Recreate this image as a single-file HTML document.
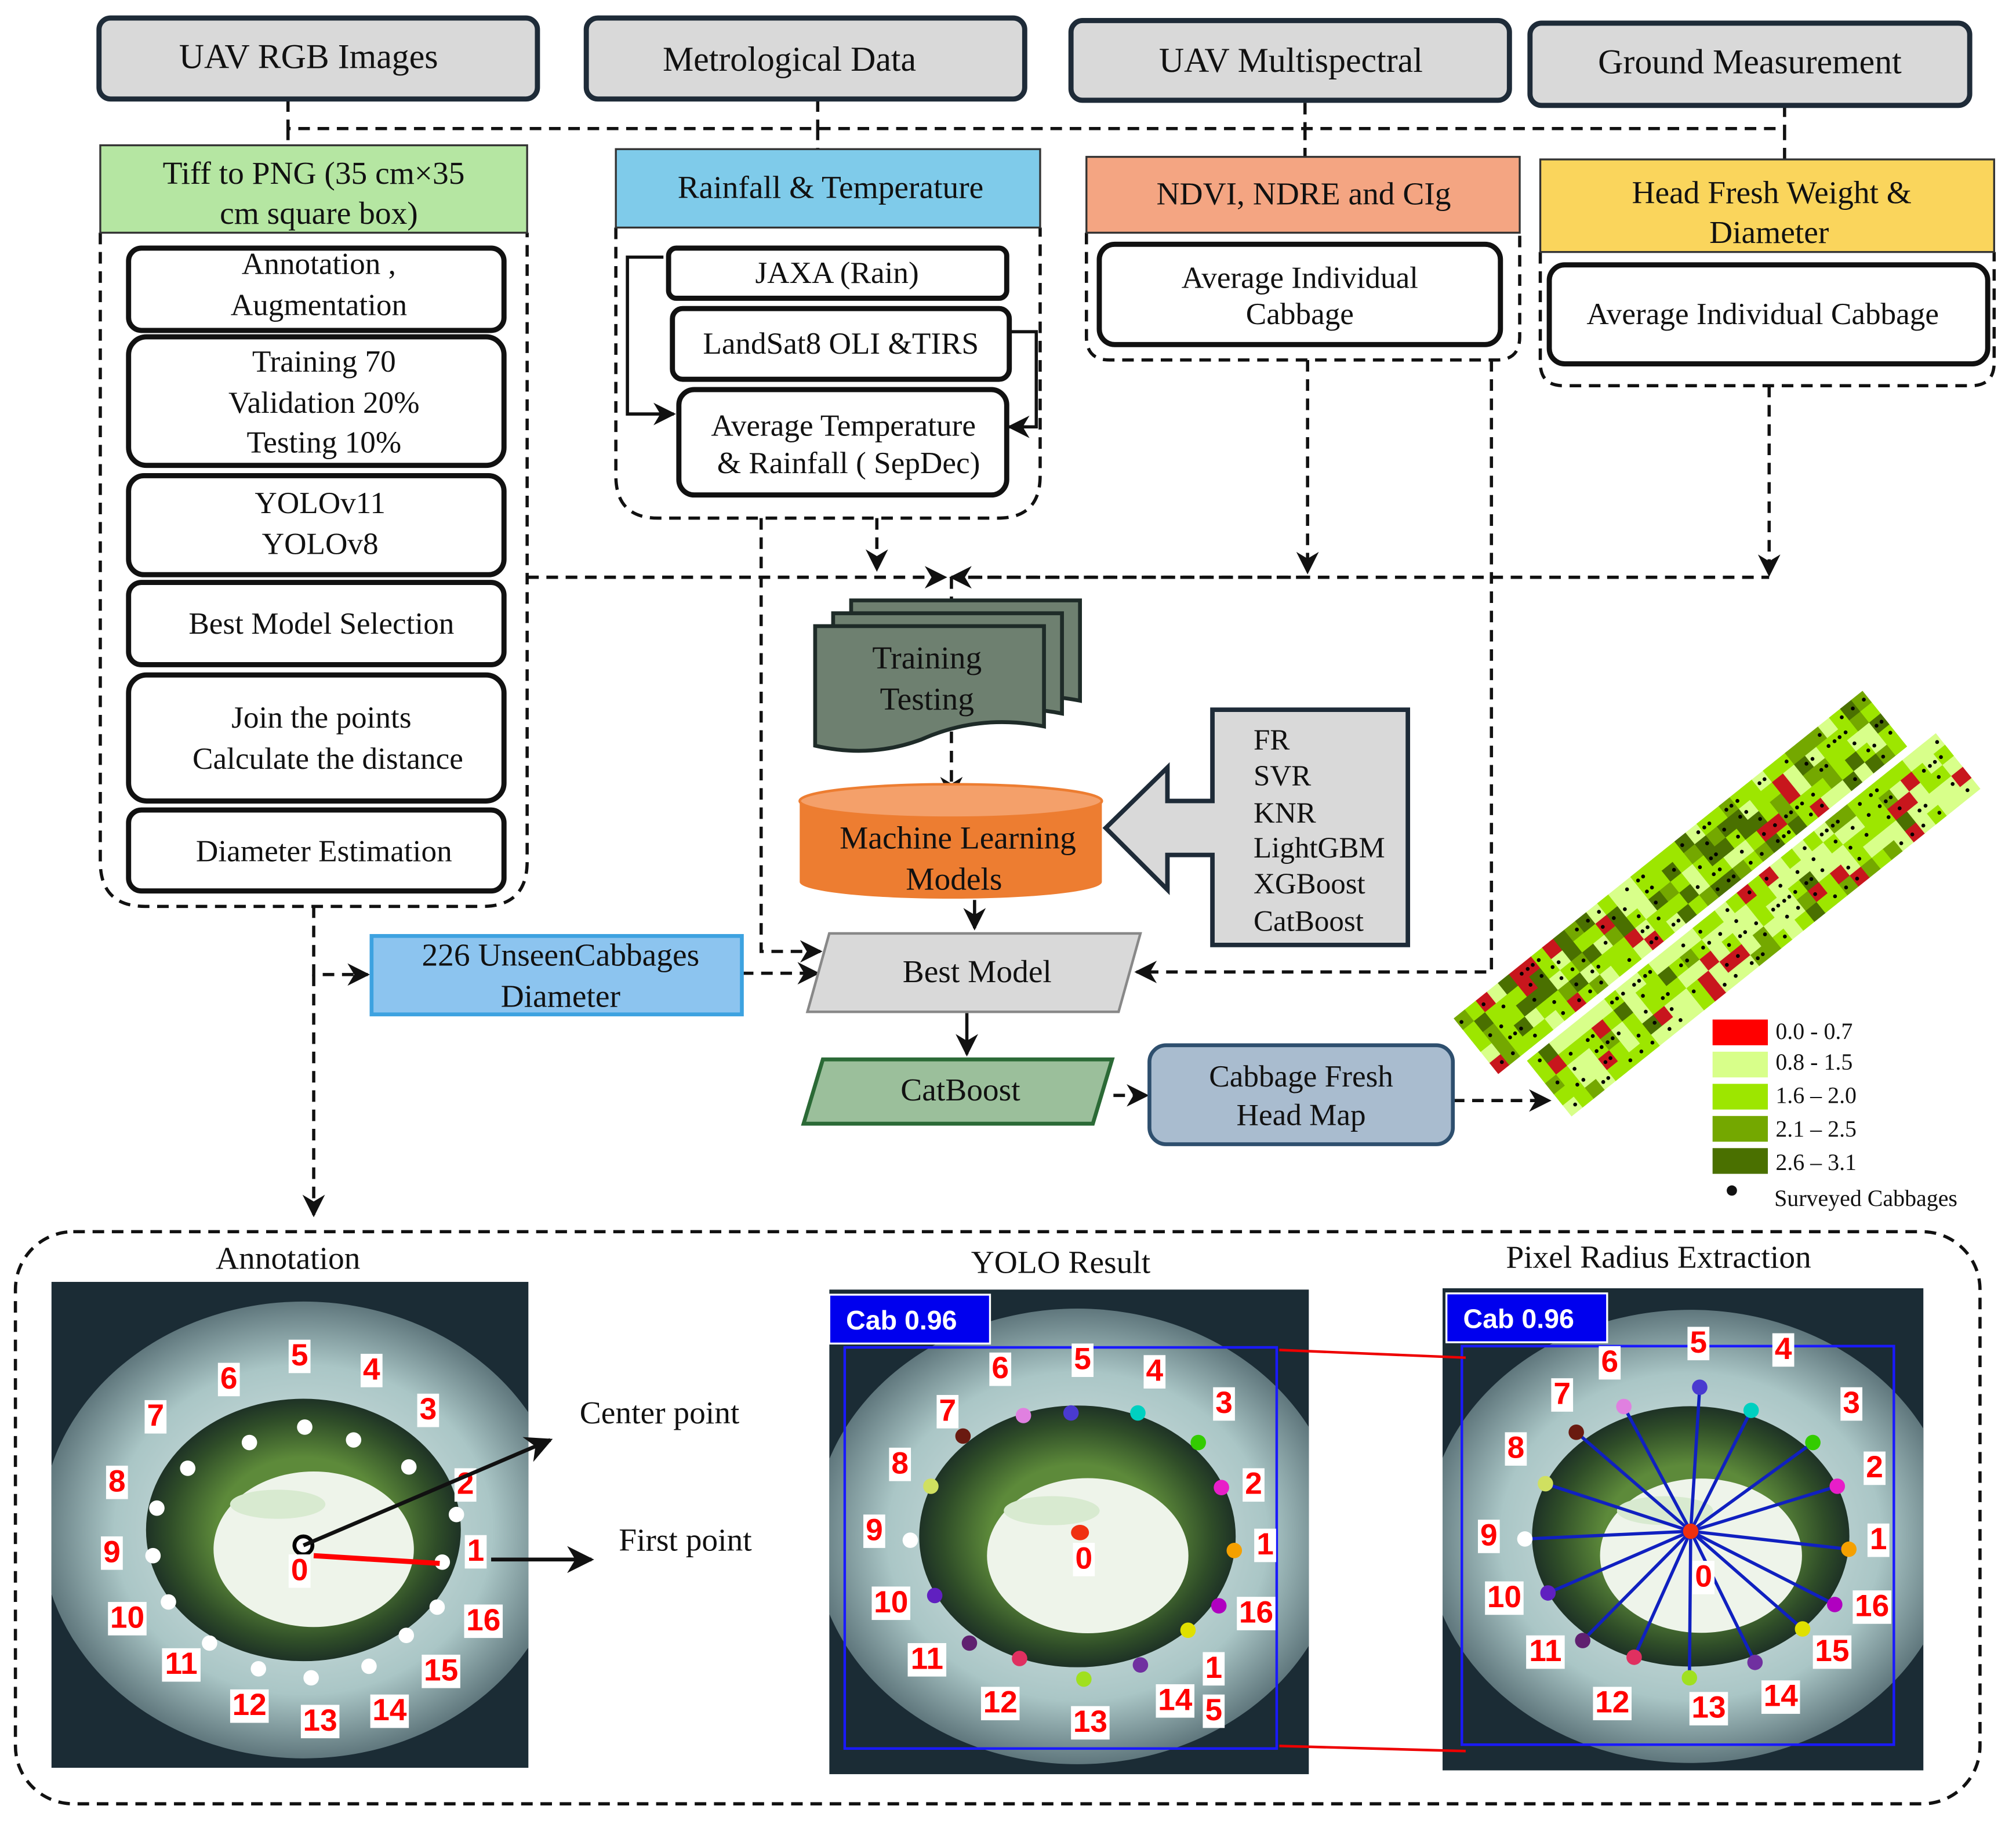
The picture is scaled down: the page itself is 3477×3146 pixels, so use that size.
<!DOCTYPE html>
<html><head><meta charset="utf-8">
<style>
html,body{margin:0;padding:0;background:#fff;}
svg{display:block;}
text{font-family:"Liberation Serif",serif;}
.b{font-family:"Liberation Sans",sans-serif;font-weight:bold;}
</style></head>
<body>
<svg id="s" xmlns="http://www.w3.org/2000/svg" width="3477" height="3146" viewBox="0 0 1568 1418.7" preserveAspectRatio="none">
<defs id="defs">
<marker id="ar" viewBox="0 0 10 10" refX="9" refY="5" markerWidth="7" markerHeight="7" orient="auto-start-reverse"><path d="M0,0 L10,5 L0,10 L3,5 z" fill="#111"/></marker>
<radialGradient id="leaf" cx="50%" cy="50%" r="60%"><stop offset="0" stop-color="#e6efee"/><stop offset="0.6" stop-color="#aac6c6"/><stop offset="1" stop-color="#2a3e48"/></radialGradient>
<radialGradient id="grn" cx="50%" cy="50%" r="50%"><stop offset="0.55" stop-color="#5d8a3a"/><stop offset="0.85" stop-color="#2f4d28"/><stop offset="1" stop-color="#1e3226"/></radialGradient>
<clipPath id="c0"><rect x="40" y="997" width="371" height="378"/></clipPath>
<clipPath id="c1"><rect x="645" y="1003" width="373" height="377"/></clipPath>
<clipPath id="c2"><rect x="1122" y="1002" width="374" height="375"/></clipPath>
</defs>
<g fill="none" stroke="#111" stroke-width="2.5" stroke-dasharray="9,6">
<path d="M224,78 V100 H1388 M636,78 V100 M1015,80 V100 M1388,82 V100 M224,100 V113 M636,100 V116 M1015,100 V122 M1388,100 V124"/>
<path d="M78,181 V670 Q78,705 113,705 H375 Q410,705 410,670 V181"/>
<path d="M479,177 V370 Q479,403 512,403 H776 Q809,403 809,370 V177"/>
<path d="M845,181 V262 Q845,280 863,280 H1164 Q1182,280 1182,262 V181"/>
<path d="M1198,196 V282 Q1198,300 1216,300 H1533 Q1551,300 1551,282 V196"/>
<path d="M410,449 H1376"/>
<path d="M682,403 V443" marker-end="url(#ar)"/>
<path d="M1017,280 V445" marker-end="url(#ar)"/>
<path d="M1376,300 V447" marker-end="url(#ar)"/>
<path d="M410,449 H735" marker-end="url(#ar)"/>
<path d="M1017,449 H740" marker-end="url(#ar)"/>
<path d="M740,449 V620" marker-end="url(#ar)"/>
<path d="M592,403 V740 H638" marker-end="url(#ar)"/>
<path d="M1160,280 V756 H884" marker-end="url(#ar)"/>
<path d="M244,705 V758 H286" marker-end="url(#ar)"/>
<path d="M244,758 V945" marker-end="url(#ar)"/>
<path d="M577,757 H636" marker-end="url(#ar)"/>
<path d="M1130,856 H1205" marker-end="url(#ar)"/>
<path d="M866,852 H892" marker-end="url(#ar)"/>
<rect x="12" y="958" width="1528" height="445" rx="45"/>
</g>
<g fill="none" stroke="#111" stroke-width="2.5">
<path d="M758,700 V722" marker-end="url(#ar)"/>
<path d="M752,788 V820" marker-end="url(#ar)"/>
<path d="M516,200 H488 V322 H524" marker-end="url(#ar)"/>
<path d="M785,258 H806 V332 H785" marker-end="url(#ar)"/>
</g>
<g stroke="#1e2b38" stroke-width="4" fill="#d9d9d9">
<rect x="77" y="14" width="341" height="63" rx="9"/>
<rect x="456" y="14" width="341" height="63" rx="9"/>
<rect x="833" y="16" width="341" height="62" rx="9"/>
<rect x="1190" y="18" width="342" height="64" rx="9"/>
</g>
<g font-size="27" text-anchor="middle" fill="#111">
<text x="240" y="53">UAV RGB Images</text>
<text x="614" y="55">Metrological Data</text>
<text x="1004" y="56">UAV Multispectral</text>
<text x="1361" y="57">Ground Measurement</text>
</g>
<g stroke="#333" stroke-width="1.5">
<rect x="78" y="113" width="332" height="68" fill="#b5e6a2"/>
<rect x="479" y="116" width="330" height="61" fill="#7fcbea"/>
<rect x="845" y="122" width="337" height="59" fill="#f4a582"/>
<rect x="1198" y="124" width="353" height="72" fill="#fad55c"/>
</g>
<g font-size="25" text-anchor="middle" fill="#111">
<text x="244" y="143">Tiff to PNG (35 cm×35</text>
<text x="248" y="174">cm square box)</text>
<text x="646" y="154">Rainfall &amp; Temperature</text>
<text x="1014" y="159">NDVI, NDRE and CIg</text>
<text x="1378" y="158">Head Fresh Weight  &amp;</text>
<text x="1376" y="189">Diameter</text>
</g>
<g fill="#fff" stroke="#111" stroke-width="4">
<rect x="100" y="193" width="292" height="64" rx="10"/>
<rect x="100" y="262" width="292" height="100" rx="14"/>
<rect x="100" y="370" width="292" height="77" rx="12"/>
<rect x="100" y="453" width="292" height="64" rx="10"/>
<rect x="100" y="525" width="292" height="98" rx="14"/>
<rect x="100" y="630" width="292" height="63" rx="10"/>
<rect x="520" y="193" width="263" height="39" rx="6"/>
<rect x="523" y="240" width="262" height="55" rx="8"/>
<rect x="528" y="303" width="255" height="82" rx="12"/>
<rect x="855" y="190" width="312" height="78" rx="12"/>
<rect x="1205" y="206" width="341" height="77" rx="12"/>
</g>
<g font-size="24" text-anchor="middle" fill="#111">
<text x="248" y="213">Annotation ,</text>
<text x="248" y="245">Augmentation</text>
<text x="252" y="289">Training 70</text>
<text x="252" y="321">Validation 20%</text>
<text x="252" y="352">Testing 10%</text>
<text x="249" y="399">YOLOv11</text>
<text x="249" y="431">YOLOv8</text>
<text x="250" y="493">Best Model Selection</text>
<text x="250" y="566">Join the points</text>
<text x="255" y="598">Calculate the distance</text>
<text x="252" y="670">Diameter Estimation</text>
<text x="651" y="220">JAXA (Rain)</text>
<text x="654" y="275">LandSat8 OLI &amp;TIRS</text>
<text x="656" y="339">Average Temperature</text>
<text x="660" y="368">&amp; Rainfall ( SepDec)</text>
<text x="1011" y="224">Average Individual</text>
<text x="1011" y="252">Cabbage</text>
<text x="1371" y="252">Average Individual Cabbage</text>
</g>
<g stroke="#1e2b28" stroke-width="3" fill="#6e8070">
<path d="M662,467 H840 V545 Q790,535 745,555 Q705,570 662,560 Z"/>
<path d="M648,477 H826 V555 Q776,545 731,565 Q691,580 648,570 Z"/>
<path d="M634,487 H812 V565 Q762,555 717,575 Q677,590 634,580 Z"/>
</g>
<text x="721" y="520" font-size="25" text-anchor="middle" fill="#111">Training</text>
<text x="721" y="552" font-size="25" text-anchor="middle" fill="#111">Testing</text>
<path d="M622,623 V686 A117.5,13 0 0 0 857,686 V623 Z" fill="#ed7d31"/>
<ellipse cx="739.5" cy="623" rx="117.5" ry="13" fill="#f4a06a" stroke="#ed7d31" stroke-width="2"/>
<text x="745" y="660" font-size="25" text-anchor="middle" fill="#111">Machine Learning</text>
<text x="742" y="692" font-size="25" text-anchor="middle" fill="#111">Models</text>
<path d="M943,552 H1095 V735 H943 V665 H908 V692 L860,644 L908,597 V623 H943 Z" fill="#d9d9d9" stroke="#1e2b38" stroke-width="3.5"/>
<g font-size="23" fill="#111">
<text x="975" y="583">FR</text><text x="975" y="611">SVR</text><text x="975" y="640">KNR</text>
<text x="975" y="667">LightGBM</text><text x="975" y="695">XGBoost</text><text x="975" y="724">CatBoost</text>
</g>
<path d="M645,726 H887 L870,787 H628 Z" fill="#d9d9d9" stroke="#888" stroke-width="2"/>
<text x="760" y="764" font-size="25" text-anchor="middle" fill="#111">Best Model</text>
<rect x="289" y="728" width="288" height="61" fill="#8cc4ef" stroke="#3da2e0" stroke-width="3"/>
<text x="436" y="751" font-size="25" text-anchor="middle" fill="#111">226 UnseenCabbages</text>
<text x="436" y="783" font-size="25" text-anchor="middle" fill="#111">Diameter</text>
<path d="M640,824 H865 L850,874 H625 Z" fill="#9bbf9b" stroke="#2b6a36" stroke-width="3"/>
<text x="747" y="856" font-size="25" text-anchor="middle" fill="#111">CatBoost</text>
<rect x="894" y="813" width="236" height="77" rx="13" fill="#a9bccf" stroke="#2e4f6e" stroke-width="3"/>
<text x="1012" y="845" font-size="24" text-anchor="middle" fill="#111">Cabbage Fresh</text>
<text x="1012" y="875" font-size="24" text-anchor="middle" fill="#111">Head Map</text>
<g id="map"></g>
<rect x="1332" y="793" width="43" height="20" fill="#f00"/>
<rect x="1332" y="818" width="43" height="20" fill="#d8ff8a"/>
<rect x="1332" y="843" width="43" height="20" fill="#9de600"/>
<rect x="1332" y="868" width="43" height="20" fill="#74a800"/>
<rect x="1332" y="893" width="43" height="20" fill="#4a7000"/>
<circle cx="1347" cy="926" r="4" fill="#111"/>
<g font-size="18" fill="#111">
<text x="1381" y="808">0.0 - 0.7</text><text x="1381" y="832">0.8 - 1.5</text>
<text x="1381" y="858">1.6 – 2.0</text><text x="1381" y="884">2.1 – 2.5</text>
<text x="1381" y="910">2.6 – 3.1</text><text x="1380" y="938">Surveyed Cabbages</text>
</g>
<g font-size="25" text-anchor="middle" fill="#111">
<text x="224" y="987">Annotation</text>
<text x="825" y="990">YOLO Result</text>
<text x="1290" y="986">Pixel Radius Extraction</text>
<text x="513" y="1107">Center point</text>
<text x="533" y="1206">First point</text>
</g>
<g id="imgs"></g>
<g fill="none" stroke="#111" stroke-width="3">
<path d="M236,1202 L428,1120" marker-end="url(#ar)"/>
<path d="M382,1213 H460" marker-end="url(#ar)"/>
</g>
<path d="M995,1050 L1140,1056 M995,1358 L1140,1362" stroke="#e00" stroke-width="2"/>
</svg>
<script>
var NS="http://www.w3.org/2000/svg";
function el(p,t,a,txt){var e=document.createElementNS(NS,t);for(var k in a)e.setAttribute(k,a[k]);if(txt!=null)e.textContent=txt;p.appendChild(e);return e;}
var map=document.getElementById('map');
var seed=7;function rnd(){seed=(seed*16807)%2147483647;return seed/2147483647;}
function strip(x0,y0,palette){
 var g=el(map,'g',{transform:'translate('+x0+','+y0+') rotate(-38.7)'});
 var L=400,W=46,c=11;
 for(var i=0;i<L;i+=c)for(var j=0;j<W;j+=c){
  var r=rnd(),col;
  if(r<palette[0])col='#c8161d';else if(r<palette[1])col='#d8ff8a';else if(r<palette[2])col='#9de600';else if(r<palette[3])col='#74a800';else col='#4a7000';
  el(g,'rect',{x:i,y:-j-c,width:c+0.5,height:c+0.5,fill:col});
  if(rnd()<0.3)el(g,'circle',{cx:i+3,cy:-j-5,r:1.5,fill:'#000'});
  if(rnd()<0.3)el(g,'circle',{cx:i+8,cy:-j-5,r:1.5,fill:'#000'});
 }
}
strip(1165,835,[0.1,0.3,0.68,0.86]);
strip(1222,868,[0.08,0.6,0.9,0.96]);
var imgs=document.getElementById('imgs');
function cab(x,y,w,h,cx,cy,id){
 var g=el(imgs,'g',{'clip-path':'url(#'+id+')'});
 el(g,'rect',{x:x,y:y,width:w,height:h,fill:'#1b2c35'});
 el(g,'ellipse',{cx:cx,cy:cy,rx:w*0.55,ry:h*0.47,fill:'url(#leaf)'});
 el(g,'ellipse',{cx:cx,cy:cy,rx:w*0.33,ry:h*0.27,fill:'url(#grn)'});
 el(g,'ellipse',{cx:cx+8,cy:cy+15,rx:w*0.21,ry:h*0.16,fill:'#eef4ea'});
 el(g,'ellipse',{cx:cx-20,cy:cy-20,rx:w*0.1,ry:h*0.03,fill:'#d8ead0'});
}
cab(40,997,371,378,236,1190,'c0');
cab(645,1003,373,377,838,1195,'c1');
cab(1122,1002,374,375,1315,1195,'c2');
function lab(x,y,t){var w=t.length*13+4;el(imgs,'rect',{x:x-w/2,y:y-18,width:w,height:26,fill:'#fff'});el(imgs,'text',{x:x,y:y+2,'font-size':24,'text-anchor':'middle',fill:'#f00','class':'b'},t);}
var ad=[[344,1215],[355,1178],[318,1141],[275,1120],[237,1110],[194,1122],[146,1142],[122,1173],[119,1210],[131,1246],[163,1278],[201,1298],[242,1305],[287,1296],[316,1272],[340,1250]];
ad.forEach(function(p){el(imgs,'circle',{cx:p[0],cy:p[1],r:6,fill:'#fff'});});
el(imgs,'line',{x1:244,y1:1210,x2:342,y2:1216,stroke:'#f00','stroke-width':4});
el(imgs,'circle',{cx:236,cy:1202,r:7,fill:'#fff',stroke:'#000','stroke-width':3});
[[233,1227,'0'],[370,1212,'1'],[362,1160,'2'],[333,1102,'3'],[289,1071,'4'],[233,1060,'5'],[178,1078,'6'],[121,1107,'7'],[91,1158,'8'],[87,1213,'9'],[99,1264,'10'],[141,1300,'11'],[194,1332,'12'],[249,1344,'13'],[303,1336,'14'],[343,1305,'15'],[376,1266,'16']].forEach(function(a){lab(a[0],a[1],a[2]);});
el(imgs,'rect',{x:657,y:1048,width:336,height:312,fill:'none',stroke:'#1a1aff','stroke-width':2});
var cols=['#f5a000','#e81ec8','#33cc00','#00d0c0','#4a3ad0','#e080e0','#6a1a10','#d0e060','#fff','#6020c0','#602070','#e03060','#a0e020','#7030a0','#e0e000','#b000c0'];
var yd=[[960,1206],[950,1157],[932,1122],[885,1099],[833,1099],[796,1101],[749,1117],[724,1156],[708,1198],[727,1241],[754,1278],[793,1290],[843,1306],[887,1295],[924,1268],[948,1249]];
yd.forEach(function(p,i){el(imgs,'ellipse',{cx:p[0],cy:p[1],rx:6,ry:6,fill:cols[i]});});
el(imgs,'ellipse',{cx:840,cy:1192,rx:7,ry:6,fill:'#f03010'});
[[843,1218,'0'],[984,1207,'1'],[975,1160,'2'],[952,1097,'3'],[898,1072,'4'],[842,1063,'5'],[778,1070,'6'],[737,1103,'7'],[700,1144,'8'],[680,1196,'9'],[693,1252,'10'],[721,1296,'11'],[778,1330,'12'],[848,1345,'13'],[914,1328,'14'],[944,1303,'1'],[944,1336,'5'],[977,1260,'16']].forEach(function(a){lab(a[0],a[1],a[2]);});
el(imgs,'rect',{x:1137,y:1047,width:336,height:310,fill:'none',stroke:'#1a1aff','stroke-width':2});
var pd=[[1438,1205],[1429,1156],[1410,1122],[1362,1097],[1322,1079],[1263,1094],[1226,1114],[1202,1154],[1186,1197],[1204,1239],[1231,1276],[1271,1289],[1314,1305],[1365,1293],[1402,1267],[1427,1248]];
pd.forEach(function(p,i){el(imgs,'line',{x1:1315,y1:1191,x2:p[0],y2:p[1],stroke:'#1020c0','stroke-width':2.5});});
pd.forEach(function(p,i){el(imgs,'circle',{cx:p[0],cy:p[1],r:6,fill:cols[i]});});
el(imgs,'circle',{cx:1315,cy:1191,r:6,fill:'#f03010'});
[[1325,1232,'0'],[1461,1203,'1'],[1458,1147,'2'],[1440,1097,'3'],[1387,1055,'4'],[1321,1050,'5'],[1252,1065,'6'],[1215,1090,'7'],[1179,1132,'8'],[1158,1200,'9'],[1170,1248,'10'],[1202,1290,'11'],[1254,1330,'12'],[1329,1334,'13'],[1385,1325,'14'],[1425,1290,'15'],[1456,1255,'16']].forEach(function(a){lab(a[0],a[1],a[2]);});
[[645,1007],[1125,1006]].forEach(function(p){el(imgs,'rect',{x:p[0],y:p[1],width:125,height:38,fill:'#0000ee',stroke:'#fff','stroke-width':1.5});el(imgs,'text',{x:p[0]+13,y:p[1]+27,'font-size':21,fill:'#fff','class':'b'},'Cab 0.96');});
</script>
</body></html>
